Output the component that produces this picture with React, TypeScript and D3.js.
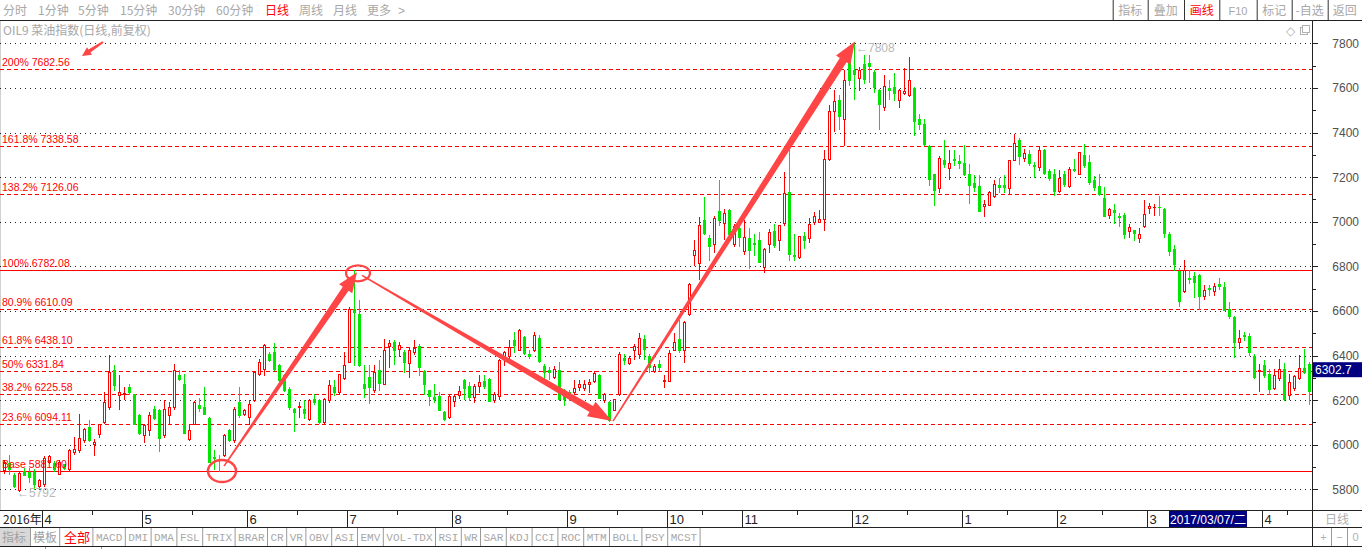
import React from 'react';
import * as d3 from 'd3';

// daily bars, [open, high, low, close], grouped by month
const mar16 = [
  [5888, 5933, 5873, 5922], [5918, 5953, 5870, 5893], [5863, 5873, 5810, 5813], [5795, 5876, 5792, 5873],
  [5882, 5896, 5863, 5866], [5878, 5896, 5833, 5855], [5878, 5893, 5803, 5825], [5813, 5848, 5803, 5840],
];
const apr16 = [
  [5822, 5951, 5816, 5942], [5923, 5955, 5918, 5948], [5918, 5927, 5882, 5893], [5870, 5930, 5867, 5923],
  [5912, 5915, 5890, 5895], [5893, 5982, 5888, 5975], [5967, 6035, 5960, 5982], [5975, 6139, 5967, 6032],
  [6020, 6077, 6012, 6072], [6080, 6112, 6015, 6020], [6003, 6027, 5952, 6012], [6047, 6095, 6035, 6092],
  [6102, 6236, 6098, 6192], [6169, 6401, 6162, 6326], [6334, 6356, 6244, 6266], [6222, 6311, 6162, 6236],
  [6227, 6259, 6207, 6231], [6259, 6274, 6229, 6236], [6226, 6229, 6094, 6094], [6132, 6136, 6050, 6053],
];
const may16 = [
  [6042, 6091, 6012, 6087], [6068, 6147, 6042, 6132], [6162, 6172, 6117, 6121], [6157, 6162, 5972, 6032],
  [6042, 6199, 6035, 6162], [6132, 6192, 6094, 6169], [6169, 6364, 6162, 6334], [6311, 6334, 6289, 6296],
  [6274, 6319, 6053, 6053], [6027, 6094, 6023, 6065], [6094, 6196, 6091, 6192], [6180, 6210, 6150, 6165],
  [6169, 6259, 6136, 6139], [6121, 6124, 5921, 5923], [5945, 5975, 5893, 5941], [5938, 5953, 5881.6, 5933],
  [5952, 6050, 5948, 6042], [6065, 6072, 6018, 6020], [6020, 6169, 6012, 6162], [6192, 6259, 6124, 6132],
  [6139, 6160, 6135, 6154],
];
const jun16 = [
  [6124, 6199, 6094, 6184], [6199, 6330, 6196, 6326], [6319, 6386, 6311, 6371], [6341, 6450, 6311, 6446],
  [6408, 6416, 6376, 6378], [6416, 6456, 6334, 6341], [6356, 6364, 6281, 6289], [6311, 6316, 6240, 6244],
  [6251, 6259, 6162, 6169], [6162, 6165, 6062, 6148], [6170, 6192, 6124, 6175], [6160, 6200, 6120, 6140],
  [6117, 6205, 6110, 6199], [6207, 6229, 6184, 6193], [6199, 6205, 6098, 6102], [6102, 6210, 6098, 6207],
  [6199, 6289, 6192, 6266], [6259, 6289, 6221, 6236], [6236, 6319, 6229, 6316], [6301, 6416, 6296, 6356],
];
const jul16 = [
  [6371, 6618, 6369, 6610], [6610, 6782.08, 6356, 6596], [6588, 6650, 6354, 6356], [6274, 6356, 6214, 6256],
  [6304, 6356, 6187, 6259], [6244, 6356, 6236, 6326], [6336, 6378, 6247, 6277], [6274, 6476, 6272, 6423],
  [6444, 6468, 6348, 6456], [6461, 6471, 6363, 6426], [6430, 6460, 6400, 6445], [6416, 6426, 6326, 6371],
  [6366, 6435, 6304, 6426], [6416, 6468, 6405, 6434], [6441, 6453, 6311, 6348], [6330, 6336, 6229, 6271],
  [6244, 6247, 6176, 6217], [6214, 6274, 6191, 6207], [6218, 6236, 6157, 6157], [6147, 6150, 6112, 6117],
  [6124, 6229, 6121, 6218],
];
const aug16 = [
  [6196, 6229, 6172, 6218], [6225, 6262, 6210, 6240], [6292, 6294, 6206, 6256], [6262, 6281, 6199, 6214],
  [6214, 6274, 6191, 6262], [6262, 6311, 6236, 6281], [6284, 6311, 6256, 6262], [6296, 6298, 6194, 6196],
  [6199, 6236, 6191, 6229], [6218, 6386, 6206, 6381], [6393, 6418, 6356, 6416], [6396, 6468, 6386, 6438],
  [6468, 6505, 6416, 6446], [6426, 6518, 6423, 6516], [6483, 6486, 6408, 6411], [6405, 6426, 6390, 6400],
  [6423, 6505, 6420, 6490], [6480, 6490, 6371, 6375], [6351, 6363, 6296, 6326], [6333, 6348, 6296, 6325],
  [6304, 6351, 6301, 6341], [6336, 6371, 6199, 6206], [6244, 6251, 6176, 6206],
];
const sep16 = [
  [6236, 6244, 6199, 6230], [6236, 6289, 6232, 6256], [6259, 6289, 6244, 6271], [6256, 6292, 6244, 6274],
  [6274, 6296, 6236, 6280], [6286, 6330, 6281, 6322], [6311, 6316, 6209, 6209], [6199, 6232, 6191, 6226],
  [6191, 6196, 6106, 6112], [6157, 6206, 6154, 6203], [6226, 6416, 6221, 6408], [6390, 6408, 6363, 6379],
  [6366, 6396, 6363, 6390], [6423, 6453, 6386, 6444], [6408, 6501, 6390, 6480], [6475, 6490, 6386, 6431],
  [6396, 6408, 6326, 6348], [6329, 6363, 6326, 6351], [6360, 6378, 6333, 6347], [6286, 6311, 6259, 6292],
];
const oct16 = [
  [6286, 6423, 6284, 6411], [6426, 6502, 6423, 6461], [6476, 6561, 6416, 6423], [6423, 6555, 6371, 6550],
  [6585, 6725, 6580, 6722], [6852, 6917, 6804, 6872], [6815, 7021, 6745, 6987], [7009, 7111, 6946, 6949],
  [6927, 6939, 6827, 6890], [6902, 7024, 6864, 7018], [7047, 7186, 6984, 7009], [6994, 7059, 6924, 7039],
  [7054, 7059, 6939, 6946], [6902, 6991, 6890, 6979], [6973, 6988, 6890, 6932],
];
const nov16 = [
  [6869, 7009, 6857, 6932], [6929, 6973, 6794, 6872], [6905, 6946, 6849, 6900], [6917, 6954, 6819, 6819],
  [6797, 6884, 6775, 6879], [6902, 6969, 6864, 6954], [6957, 6991, 6887, 6894], [6920, 6984, 6875, 6984],
  [6994, 7223, 6984, 7129], [7133, 7330, 6830, 6857], [6849, 6943, 6830, 6846], [6842, 6936, 6838, 6934],
  [6934, 6954, 6884, 6916], [6928, 7018, 6909, 6988], [6999, 7043, 6988, 7024], [6999, 7054, 6997, 7014],
  [7014, 7323, 6964, 7283], [7280, 7522, 7275, 7495], [7496, 7589, 7407, 7541], [7544, 7567, 7417, 7473],
  [7462, 7682, 7342, 7637], [7716, 7739, 7612, 7637],
];
const dec16 = [
  [7679, 7808, 7552, 7664], [7646, 7694, 7589, 7679], [7709, 7746, 7622, 7641], [7712, 7746, 7627, 7700],
  [7671, 7679, 7582, 7604], [7592, 7597, 7417, 7529], [7514, 7656, 7499, 7607], [7601, 7634, 7552, 7590],
  [7604, 7667, 7544, 7577], [7547, 7597, 7514, 7592], [7578, 7691, 7571, 7585], [7567, 7739, 7565, 7634],
  [7601, 7604, 7387, 7452], [7462, 7485, 7417, 7440], [7440, 7462, 7342, 7350], [7338, 7342, 7163, 7193],
  [7212, 7215, 7073, 7144], [7153, 7293, 7133, 7287], [7278, 7365, 7245, 7257], [7242, 7320, 7193, 7263],
  [7282, 7323, 7253, 7278], [7270, 7300, 7240, 7262],
];
const jan17 = [
  [7263, 7343, 7208, 7215], [7215, 7260, 7084, 7163], [7175, 7211, 7138, 7156], [7159, 7208, 7048, 7048],
  [7070, 7096, 7024, 7078], [7076, 7138, 7073, 7133], [7114, 7189, 7111, 7171], [7163, 7197, 7133, 7157],
  [7163, 7208, 7133, 7156], [7153, 7275, 7129, 7275], [7278, 7392, 7275, 7353], [7368, 7377, 7260, 7293],
  [7287, 7328, 7272, 7310], [7305, 7323, 7253, 7263], [7253, 7268, 7200, 7249], [7245, 7338, 7233, 7323],
  [7323, 7328, 7213, 7219], [7227, 7238, 7186, 7198], [7213, 7238, 7118, 7138],
];
const feb17 = [
  [7138, 7233, 7133, 7198], [7213, 7227, 7159, 7171], [7159, 7245, 7156, 7238], [7238, 7283, 7227, 7230],
  [7215, 7313, 7213, 7313], [7298, 7347, 7245, 7253], [7268, 7298, 7171, 7178], [7189, 7204, 7141, 7156],
  [7159, 7213, 7118, 7123], [7108, 7156, 7024, 7024], [7029, 7063, 7018, 7059], [7054, 7078, 6994, 7044],
  [7024, 7039, 6979, 7021], [7029, 7039, 6929, 6946], [6960, 6990, 6930, 6975], [6961, 6963, 6919, 6950],
  [6928, 6973, 6909, 6946], [6979, 7099, 6976, 7036],
];
const mar17 = [
  [7063, 7084, 7039, 7069], [7066, 7078, 7029, 7068], [7068, 7114, 7029, 7064], [7059, 7063, 6932, 6949],
  [6943, 6954, 6849, 6869], [6879, 6894, 6782, 6812], [6779, 6794, 6621, 6645], [6689, 6827, 6685, 6782],
  [6749, 6785, 6725, 6744], [6755, 6775, 6662, 6730], [6760, 6764, 6610, 6665], [6665, 6715, 6655, 6692],
  [6704, 6715, 6670, 6699], [6689, 6725, 6670, 6710], [6719, 6749, 6700, 6710], [6707, 6730, 6603, 6606],
  [6610, 6640, 6570, 6576], [6573, 6576, 6393, 6461], [6461, 6516, 6435, 6480], [6491, 6505, 6471, 6487],
  [6486, 6501, 6401, 6416], [6396, 6405, 6301, 6304], [6330, 6360, 6241, 6336],
];
const apr17 = [
  [6356, 6378, 6304, 6311], [6319, 6341, 6229, 6251], [6256, 6341, 6251, 6311], [6301, 6386, 6289, 6341],
  [6341, 6366, 6202, 6207], [6221, 6319, 6207, 6281], [6256, 6311, 6244, 6307], [6301, 6401, 6296, 6346],
  [6346, 6431, 6321, 6326], [6363, 6371, 6184, 6241],
];

const monthBars = [mar16, apr16, may16, jun16, jul16, aug16, sep16, oct16, nov16, dec16, jan17, feb17, mar17, apr17];
const monthLabels = ['', '4', '5', '6', '7', '8', '9', '10', '11', '12', '1', '2', '3', '4'];

const fibNames = ['200%', '161.8%', '138.2%', '100%', '80.9%', '61.8%', '50%', '38.2%', '23.6%', 'Base'];
const fibValues = [7682.56, 7338.58, 7126.06, 6782.08, 6610.09, 6438.1, 6331.84, 6225.58, 6094.11, 5881.6];
const fibSolid = ['100%', 'Base'];

const priceTicks = [5800, 6000, 6200, 6400, 6600, 6800, 7000, 7200, 7400, 7600, 7800];
const lastPrice = 6302.7;
const cursorDate = '2017/03/07/二';
const peakMark = { label: '7808', value: 7808 };
const troughMark = { label: '5792', value: 5792 };

const periodTabs = ['分时', '1分钟', '5分钟', '15分钟', '30分钟', '60分钟', '日线', '周线', '月线', '更多'];
const rightTabs = ['指标', '叠加', '画线', 'F10', '标记', '-自选', '返回'];
const indicatorTabs = ['MACD', 'DMI', 'DMA', 'FSL', 'TRIX', 'BRAR', 'CR', 'VR', 'OBV', 'ASI', 'EMV', 'VOL-TDX',
  'RSI', 'WR', 'SAR', 'KDJ', 'CCI', 'ROC', 'MTM', 'BOLL', 'PSY', 'MCST'];

const candles = monthBars.flat();
const monthStart = [];
let acc = 0;
monthBars.forEach(m => { monthStart.push(acc); acc += m.length; });

const RED = '#ff0000';
const GREEN = '#00e600';
const INK = '#ff4545';
const CJK = '"Noto Sans CJK SC", sans-serif';
const SANS = '"Liberation Sans", Arial, sans-serif';

function taper(p0, p1, w0, w1, hl, hw) {
  const dx = p1[0] - p0[0], dy = p1[1] - p0[1];
  const len = Math.hypot(dx, dy);
  const ux = dx / len, uy = dy / len, nx = -uy, ny = ux;
  const bx = p1[0] - ux * hl, by = p1[1] - uy * hl;
  const pts = [
    [p0[0] + nx * w0 / 2, p0[1] + ny * w0 / 2],
    [bx + nx * w1 / 2, by + ny * w1 / 2],
    [bx + nx * hw / 2, by + ny * hw / 2],
    [p1[0], p1[1]],
    [bx - nx * hw / 2, by - ny * hw / 2],
    [bx - nx * w1 / 2, by - ny * w1 / 2],
    [p0[0] - nx * w0 / 2, p0[1] - ny * w0 / 2],
  ];
  return 'M' + pts.map(p => p.join(',')).join('L') + 'Z';
}

const App = () => {
  const plotRight = 1312;
  const x = d3.scaleLinear().domain([0, candles.length - 1]).range([4, 1309]);
  const y = d3.scaleLinear().domain([5800, 7800]).range([489.3, 43.3]);
  const minorTicks = d3.range(5800, 7801, 100);

  const lowIdx = candles.findIndex(c => c[2] === 5881.6);
  const highIdx = candles.findIndex(c => c[1] === 6782.08);
  const lastLowIdx = candles.findIndex(c => c[2] === 6106);
  const peakIdx = candles.findIndex(c => c[1] === peakMark.value);
  const troughIdx = candles.findIndex(c => c[2] === troughMark.value);

  const arrows = [
    { a: [x(lowIdx) + 5, y(5881.6) - 5], b: [x(highIdx) + 3, y(6782.08) + 2], w0: 1.5, w1: 7, hl: 20, hw: 16 },
    { a: [x(highIdx) + 8, y(6782.08) + 5], b: [x(lastLowIdx) + 3, y(6106)], w0: 1.5, w1: 7, hl: 24, hw: 17 },
    { a: [x(lastLowIdx) + 4, y(6106)], b: [x(peakIdx) + 1, y(peakMark.value)], w0: 1.5, w1: 8, hl: 22, hw: 17 },
    { a: [103, 42], b: [82, 56], w0: 2, w1: 3.5, hl: 9, hw: 9 },
  ];

  // indicator tab cells
  let tx = 92.9;
  const tabCells = indicatorTabs.map(t => {
    const w = 6.6 * t.length + 6;
    const c = { t, x0: tx, x1: tx + w };
    tx += w;
    return c;
  });

  const toolbarX = [3, 38, 78, 120, 168, 216, 265, 299, 333, 367];
  const rightX = [1112.7, 1147.7, 1184, 1219.3, 1256.7, 1291.7, 1327.7, 1362];

  return (
    <div style={{ position: 'absolute', left: 0, top: 0, background: '#fff' }}>
      <svg width={1362} height={549} style={{ display: 'block' }}>
        <rect width={1362} height={549} fill="#fff" />

        {/* top toolbar */}
        {periodTabs.map((t, i) => (
          <text key={t} x={toolbarX[i]} y={15} fontFamily={CJK} fontSize={12}
            fill={t === '日线' ? RED : '#a8a8a8'}>{t}</text>
        ))}
        <text x={398} y={15} fontFamily={SANS} fontSize={12} fill="#a8a8a8">{'>'}</text>
        {rightTabs.map((t, i) => (
          <g key={t}>
            <line x1={rightX[i] + 0.5} x2={rightX[i] + 0.5} y1={0} y2={20} stroke="#333" />
            <text x={(rightX[i] + rightX[i + 1]) / 2} y={15} textAnchor="middle"
              fontFamily={t === 'F10' ? SANS : CJK} fontSize={t === 'F10' ? 11 : 12}
              fill={t === '画线' ? RED : '#a8a8a8'}>{t}</text>
          </g>
        ))}
        <line x1={0} x2={1362} y1={20.5} y2={20.5} stroke="#222" />

        {/* plot frame */}
        <line x1={0.5} x2={0.5} y1={21} y2={510} stroke="#d0d0d0" />
        <text x={3} y={35} fontFamily={CJK} fontSize={12} fill="#a8a8a8">OIL9 菜油指数(日线,前复权)</text>
        <text x={1286} y={35} fontFamily={SANS} fontSize={12} fill="#b0b0b0">◇</text>
        <rect x={1300.5} y={27.5} width={7} height={7} fill="none" stroke="#b0b0b0" />
        <rect x={1302.5} y={25.5} width={7} height={7} fill="#fff" stroke="#b0b0b0" />

        {/* grid */}
        {priceTicks.map(v => (
          <line key={v} x1={0} x2={plotRight} y1={Math.round(y(v)) + 0.5} y2={Math.round(y(v)) + 0.5}
            stroke="#222" strokeDasharray="1,4" />
        ))}

        {/* fibonacci levels */}
        {fibValues.map((v, i) => (
          <line key={v} x1={0} x2={plotRight} y1={Math.round(y(v)) + 0.5} y2={Math.round(y(v)) + 0.5}
            stroke={RED} strokeDasharray={fibSolid.includes(fibNames[i]) ? null : '4,3'} />
        ))}

        {/* candles */}
        <g shapeRendering="crispEdges">
          {candles.map(([o, h, l, c], i) => {
            const cx = Math.round(x(i));
            const up = c >= o;
            const yT = Math.round(y(Math.max(o, c)));
            const yB = Math.round(y(Math.min(o, c)));
            const yH = Math.round(y(h));
            const yL = Math.round(y(l));
            const col = up ? RED : GREEN;
            return (
              <g key={i}>
                <line x1={cx + 0.5} x2={cx + 0.5} y1={yH} y2={yL + 1} stroke={col} />
                {yB - yT < 1 ? (
                  <line x1={cx - 1} x2={cx + 2} y1={yT + 0.5} y2={yT + 0.5} stroke={col} />
                ) : up ? (
                  <rect x={cx - 0.5} y={yT + 0.5} width={2} height={yB - yT} fill="#fff" stroke={col} />
                ) : (
                  <rect x={cx - 1} y={yT} width={3} height={yB - yT + 1} fill={col} />
                )}
              </g>
            );
          })}
        </g>

        {/* fibonacci labels */}
        {fibValues.map((v, i) => (
          <text key={v} x={2} y={Math.round(y(v)) - 3} fontFamily={SANS} fontSize={10.5} fill={RED}>
            {`${fibNames[i]} ${v.toFixed(2)}`}
          </text>
        ))}

        {/* extreme markers */}
        <text x={x(troughIdx) - 2} y={y(troughMark.value) + 6} fontFamily={SANS} fontSize={12} fill="#b8b8b8">
          {'←' + troughMark.label}
        </text>
        <text x={x(peakIdx) + 2} y={y(peakMark.value) + 10} fontFamily={SANS} fontSize={12} fill="#b8b8b8">
          {'←' + peakMark.label}
        </text>

        {/* hand drawn annotations */}
        <ellipse cx={x(lowIdx) + 3} cy={y(5881.6)} rx={14} ry={11} fill="none" stroke={INK} strokeWidth={2.5} />
        <ellipse cx={x(highIdx) + 4} cy={y(6782.08) + 3} rx={12} ry={8} fill="none" stroke={INK} strokeWidth={2.2} />
        {arrows.map((a, i) => (
          <path key={i} d={taper(a.a, a.b, a.w0, a.w1, a.hl, a.hw)} fill={INK} />
        ))}

        {/* right axis */}
        <line x1={plotRight + 0.5} x2={plotRight + 0.5} y1={21} y2={527} stroke="#222" />
        {minorTicks.map(v => (
          <line key={v} x1={plotRight} x2={plotRight + (v % 200 === 0 ? 6 : 4)}
            y1={Math.round(y(v)) + 0.5} y2={Math.round(y(v)) + 0.5} stroke="#222" />
        ))}
        {priceTicks.map(v => (
          <text key={v} x={1359} y={y(v) + 4.5} textAnchor="end" fontFamily={SANS} fontSize={12} fill="#505050">{v}</text>
        ))}
        <rect x={plotRight + 1} y={y(lastPrice) - 15} width={49} height={15} fill="#000080" />
        <text x={plotRight + 3} y={y(lastPrice) - 3} fontFamily={SANS} fontSize={12} fill="#fff">{lastPrice}</text>

        {/* date axis */}
        <line x1={0} x2={1362} y1={510.5} y2={510.5} stroke="#222" />
        <line x1={0} x2={1362} y1={527.5} y2={527.5} stroke="#222" />
        <text x={3} y={524} fontFamily={CJK} fontSize={12} fill="#222">2016年</text>
        {monthStart.map((s, k) => {
          if (!monthLabels[k]) return null;
          const tx0 = Math.round(x(s)) - 1.5;
          const mid = Math.round(x(s + Math.floor(monthBars[k].length / 2))) - 1.5;
          return (
            <g key={k}>
              <line x1={tx0} x2={tx0} y1={511} y2={527} stroke="#222" />
              <line x1={mid} x2={mid} y1={511} y2={515} stroke="#222" />
              <text x={tx0 + 2} y={524} fontFamily={SANS} fontSize={13} fill="#222">{monthLabels[k]}</text>
            </g>
          );
        })}
        <rect x={1169} y={511} width={78} height={16} fill="#000080" />
        <text x={1170} y={524} fontFamily={'"Liberation Sans", "Noto Sans CJK SC", sans-serif'} fontSize={12}
          textLength={76} lengthAdjust="spacingAndGlyphs" fill="#fff">{cursorDate}</text>
        <rect x={plotRight + 1} y={511} width={50} height={16} fill="#fff" />
        <line x1={plotRight + 0.5} x2={plotRight + 0.5} y1={510} y2={546} stroke="#222" />
        <text x={1325} y={524} fontFamily={CJK} fontSize={12} fill="#b0b0b0">日线</text>

        {/* indicator tabs */}
        <rect x={0} y={528} width={30.5} height={18} fill="#d8d8d8" />
        <text x={2} y={542} fontFamily={CJK} fontSize={12} fill="#a0a0a0">指标</text>
        <text x={33} y={542} fontFamily={CJK} fontSize={12} fill="#a0a0a0">模板</text>
        <text x={64} y={542} fontFamily={CJK} fontSize={13} fill={RED}>全部</text>
        {[30.5, 59.7, 92.9].map(v => (
          <line key={v} x1={v} x2={v} y1={528} y2={546} stroke="#999" />
        ))}
        {tabCells.map(c => (
          <g key={c.t}>
            <line x1={c.x1} x2={c.x1} y1={528} y2={546} stroke="#999" />
            <text x={(c.x0 + c.x1) / 2} y={541} textAnchor="middle" fontFamily='"Liberation Mono", monospace'
              fontSize={11} fill="#a8a8a8">{c.t}</text>
          </g>
        ))}
        <line x1={0} x2={1362} y1={546.5} y2={546.5} stroke="#222" />
        <line x1={45.5} x2={45.5} y1={547} y2={549} stroke="#999" />
        <line x1={101.5} x2={101.5} y1={547} y2={549} stroke="#999" />
        {[1331, 1347].map(v => (
          <line key={v} x1={v + 0.5} x2={v + 0.5} y1={528} y2={546} stroke="#999" />
        ))}
        {['+', '−', '0'].map((t, i) => (
          <text key={t} x={1323.5 + i * 16} y={541} textAnchor="middle" fontFamily={SANS} fontSize={11} fill="#b0b0b0">{t}</text>
        ))}
      </svg>
    </div>
  );
};

export default App;
